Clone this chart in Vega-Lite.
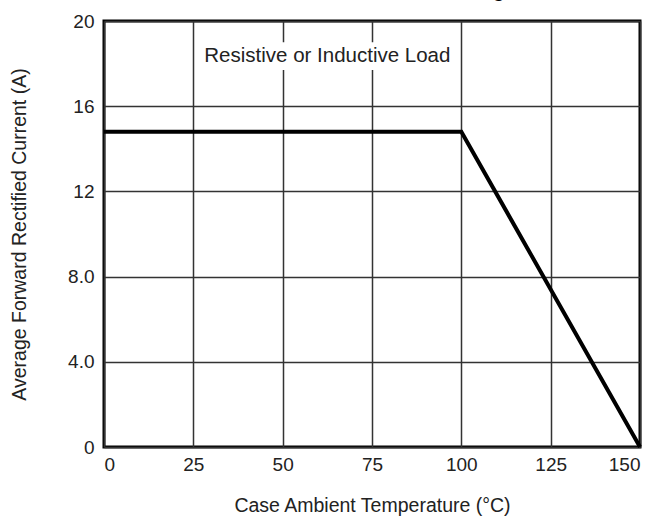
{
  "$schema": "https://vega.github.io/schema/vega-lite/v6.json",
  "autosize": {"type": "none"},
  "padding": {"left": 104, "top": 21, "right": 20, "bottom": 76},
  "width": 536,
  "height": 426,
  "background": "white",
  "title": {
    "text": "Current Derating",
    "anchor": "end",
    "frame": "group",
    "dx": -135,
    "offset": 11,
    "font": "Liberation Sans",
    "fontSize": 20,
    "fontWeight": "bold",
    "color": "black"
  },
  "config": {
    "view": {"stroke": "black", "strokeWidth": 3},
    "font": "Liberation Sans",
    "axis": {
      "domain": false,
      "ticks": false,
      "grid": true,
      "gridColor": "#333333",
      "gridWidth": 1.5,
      "gridOpacity": 1,
      "labelFont": "Liberation Sans",
      "labelFontSize": 19,
      "labelColor": "#222222",
      "titleFont": "Liberation Sans",
      "titleFontSize": 19.5,
      "titleFontWeight": "normal",
      "titleColor": "#222222"
    }
  },
  "datasets": {
    "curve": [
      {"temp": 0, "current": 14.8},
      {"temp": 100, "current": 14.8},
      {"temp": 150, "current": 0}
    ],
    "note": [
      {"label": "Resistive or Inductive Load", "xc": 62.5, "yc": 18.35, "x0": 27, "x1": 98, "y0": 17.7, "y1": 19.0}
    ]
  },
  "layer": [
    {
      "data": {"name": "curve"},
      "mark": {"type": "line", "color": "black", "strokeWidth": 4, "strokeJoin": "miter"},
      "encoding": {
        "x": {
          "field": "temp",
          "type": "quantitative",
          "scale": {"domain": [0, 150], "nice": false},
          "axis": {
            "values": [0, 25, 50, 75, 100, 125, 150],
            "labelPadding": 8,
            "title": "Case Ambient Temperature (°C)",
            "titlePadding": 22
          }
        },
        "y": {
          "field": "current",
          "type": "quantitative",
          "scale": {"domain": [0, 20], "nice": false},
          "axis": {
            "values": [0, 4, 8, 12, 16, 20],
            "labelExpr": "datum.value == 0 || datum.value >= 12 ? format(datum.value, 'd') : format(datum.value, '.1f')",
            "labelPadding": 10,
            "title": "Average Forward Rectified Current (A)",
            "titlePadding": 38
          }
        }
      }
    },
    {
      "data": {"name": "note"},
      "mark": {"type": "rect", "fill": "white", "stroke": null},
      "encoding": {
        "x": {"field": "x0", "type": "quantitative"},
        "x2": {"field": "x1"},
        "y": {"field": "y0", "type": "quantitative"},
        "y2": {"field": "y1"}
      }
    },
    {
      "data": {"name": "note"},
      "mark": {"type": "text", "font": "Liberation Sans", "fontSize": 20.5, "color": "#222222", "align": "center", "baseline": "middle"},
      "encoding": {
        "x": {"field": "xc", "type": "quantitative"},
        "y": {"field": "yc", "type": "quantitative"},
        "text": {"field": "label"}
      }
    }
  ]
}
